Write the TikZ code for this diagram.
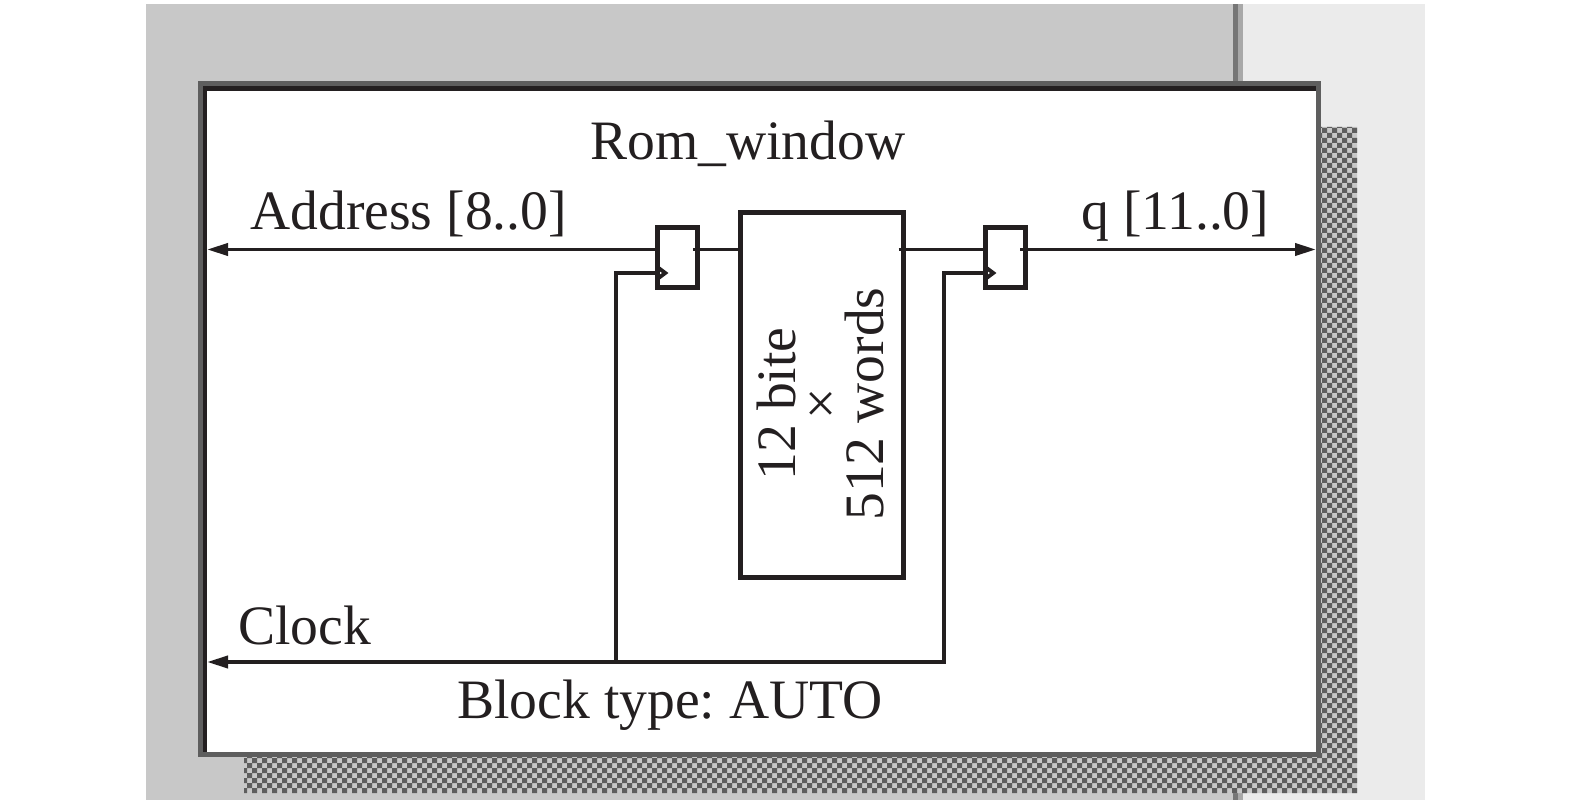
\documentclass[tikz,border=0pt]{standalone}
\usepackage{fontspec}
\setmainfont{Liberation Serif}
\usetikzlibrary{arrows.meta}
\definecolor{bgleft}{HTML}{C8C8C8}
\definecolor{bgright}{HTML}{EBEBEB}
\definecolor{framegray}{HTML}{5E5E5E}
\definecolor{divdark}{HTML}{767676}
\definecolor{divlight}{HTML}{A8A8A8}
\definecolor{ink}{HTML}{231F20}
\frenchspacing
\begin{document}
\begin{tikzpicture}[x=0.5pt,y=-0.5pt,
  lbl/.style={font=\fontsize{27.8}{33}\selectfont, inner sep=0pt, text=ink},
  wire/.style={line width=1.9pt, draw=ink},
  arr/.style={wire, -{Triangle[length=10.5pt,width=6pt]}},
  regbox/.style={draw=ink, line width=2.7pt, minimum width=20pt, minimum height=30pt, inner sep=0pt},
  rombox/.style={draw=ink, line width=2.7pt, minimum width=81.5pt, minimum height=182.5pt, inner sep=0pt}
]
\useasboundingbox (0,0) rectangle (1575,807);
% background
\fill[bgleft] (146,4) rectangle (1236,800);
\fill[bgright] (1236,4) rectangle (1425,800);
\fill[divdark] (1233,4) rectangle (1238,800);
\fill[divlight] (1238,4) rectangle (1243,800);
% checkered shadow
\begin{scope}
  \clip (1321,127) -- (1357,127) -- (1357,793) -- (244,793) -- (244,757) -- (1321,757) -- cycle;
  \fill[bgleft] (240,120) rectangle (1360,800);
  \fill[framegray]
    \foreach \a in {0,...,4} { \foreach \b in {0,...,67} {
      (1357-10*\a,793-10*\b) rectangle ++(-5,-5) (1352-10*\a,788-10*\b) rectangle ++(-5,-5) } }
    \foreach \a in {5,...,112} { \foreach \b in {0,...,4} {
      (1357-10*\a,793-10*\b) rectangle ++(-5,-5) (1352-10*\a,788-10*\b) rectangle ++(-5,-5) } };
\end{scope}
% window frame
\fill[framegray] (198,81) rectangle (1321,757);
\fill[ink] (203,86) rectangle (1316,752);
\fill[white] (207,91) rectangle (1316,752);

% blocks
\node[regbox] (reg1) at (677.5,257.5) {};
\node[regbox] (reg2) at (1005.5,257.5) {};
\node[rombox] (rom) at (822,395) {};
\node[lbl, rotate=90, align=center, font=\fontsize{27.8}{22}\selectfont] (romtxt) at (820,404) {12 bite\\×\\512 words};

% labels
\node[lbl, anchor=base west] (title) at (590,160) {Rom\_window};
\node[lbl, anchor=base west] (addr) at (250,230) {Address [8..0]};
\node[lbl, anchor=base west] (qlbl) at (1081,230) {q [11..0]};
\node[lbl, anchor=base west] (clk) at (238,644) {Clock};
\node[lbl, anchor=base west] (blk) at (457,718) {Block type: AUTO};

% coordinates
\coordinate (addrIn) at (207,249.5);
\coordinate (qOut) at (1316,249.5);
\coordinate (clkIn) at (207,662);
\coordinate (clkrow) at (0,273);
\coordinate (c1) at (616,662);
\coordinate (c2) at (944,662);
\coordinate (r1o) at ([xshift=-3.5pt]reg1.east);
\coordinate (romo) at ([xshift=-3.75pt]rom.east);
\coordinate (r2o) at ([xshift=-4pt]reg2.east);

% data path
\draw[arr] (reg1.west |- addrIn) -- (addrIn);
\draw[wire] (r1o |- addrIn) -- (rom.west |- addrIn);
\draw[wire] (romo |- addrIn) -- (reg2.west |- addrIn);
\draw[arr] (r2o |- addrIn) -- (qOut);

% clock path
\draw[wire] (reg1.west |- clkrow) -| (c1);
\draw[arr] (reg2.west |- clkrow) -| (c2) -- (clkIn);

% clock markers
\draw[wire] (reg1.west) ++(2.5,9.5) -- ++(8,6) -- ++(-8,6);
\draw[wire] (reg2.west) ++(2.5,9.5) -- ++(8,6) -- ++(-8,6);
\end{tikzpicture}
\end{document}
